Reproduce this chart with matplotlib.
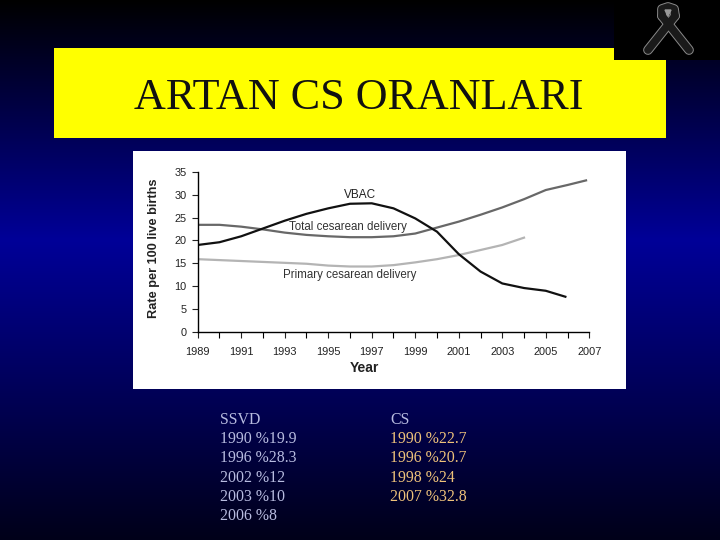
import numpy as np
import matplotlib
matplotlib.use("Agg")
import matplotlib.pyplot as plt
from matplotlib.patches import Rectangle

title = "ARTAN CS ORANLARI"

years_vbac = [1989, 1990, 1991, 1992, 1993, 1994, 1995, 1996, 1997, 1998, 1999, 2000, 2001, 2002, 2003, 2004, 2005, 2005.9]
vbac = [19, 19.6, 20.9, 22.6, 24.3, 25.8, 27, 28, 28.1, 27, 24.8, 21.9, 17, 13.2, 10.6, 9.6, 9.0, 7.7]

years_total = [1989, 1990, 1991, 1992, 1993, 1994, 1995, 1996, 1997, 1998, 1999, 2000, 2001, 2002, 2003, 2004, 2005, 2006, 2006.85]
total = [23.4, 23.4, 23, 22.4, 21.7, 21.2, 20.9, 20.7, 20.7, 20.9, 21.5, 22.8, 24.1, 25.6, 27.2, 29, 31, 32.1, 33.1]

years_primary = [1989, 1990, 1991, 1992, 1993, 1994, 1995, 1996, 1997, 1998, 1999, 2000, 2001, 2002, 2003, 2004]
primary = [15.9, 15.7, 15.5, 15.3, 15.1, 14.9, 14.5, 14.3, 14.3, 14.6, 15.2, 15.9, 16.8, 17.9, 19, 20.6]

y_ticks = [0, 5, 10, 15, 20, 25, 30, 35]
x_minor = list(range(1989, 2008))
x_labels = list(range(1989, 2008, 2))

ssvd_lines = ["SSVD", "1990 %19.9", "1996 %28.3", "2002 %12", "2003 %10", "2006 %8"]
cs_lines = ["CS", "1990 %22.7", "1996 %20.7", "1998 %24", "2007 %32.8"]

W, H = 720, 540
fig = plt.figure(figsize=(W / 100, H / 100), dpi=100)

# full figure axes in pixel coordinates for the slide itself
bg = fig.add_axes([0, 0, 1, 1])
bg.set_xlim(0, W)
bg.set_ylim(H, 0)
bg.axis("off")

rows = np.array([0, 240, 540]) / 540
blues = np.array([0, 152, 25])
grad = np.interp(np.linspace(0, 1, 540), rows, blues) / 255
img = np.zeros((540, 1, 3))
img[:, 0, 2] = grad
bg.imshow(img, extent=[0, W, H, 0], aspect="auto", zorder=0)

bg.add_patch(Rectangle((54, 48), 612, 90, fc="#ffff00", ec="none", zorder=1))
bg.add_patch(Rectangle((614, 0), 106, 60, fc="black", ec="none", zorder=2))
bg.add_patch(Rectangle((133, 151), 493, 238, fc="white", ec="none", zorder=1))

# ribbon
leg1_x, leg1_y = [648, 675], [50, 16]
leg2_x, leg2_y = [689, 662], [50, 16]
loop_x, loop_y = [662, 662, 668, 674, 675], [16, 9, 7, 9, 16]
for xs, ys in [(leg1_x, leg1_y), (leg2_x, leg2_y), (loop_x, loop_y)]:
    bg.plot(xs, ys, color="#8a8a8a", lw=7, solid_capstyle="round", zorder=3)
for xs, ys in [(leg1_x, leg1_y), (leg2_x, leg2_y), (loop_x, loop_y)]:
    bg.plot(xs, ys, color="#1a1a1a", lw=5.6, solid_capstyle="round", zorder=4)
bg.fill([665, 671, 668], [10, 10, 16], color="#999999", zorder=5)

bg.text(359, 109, title, family="Liberation Serif", fontsize=31.8, color="#111111",
        ha="center", va="baseline", zorder=5)

for i, s in enumerate(ssvd_lines):
    bg.text(220, 420 + i * 19.2, s, family="Liberation Serif", fontsize=11.4,
            color="#b8bce0", ha="left", va="center", zorder=5)
for i, s in enumerate(cs_lines):
    bg.text(390, 420 + i * 19.2, s, family="Liberation Serif", fontsize=11.4,
            color="#eec27a" if i else "#b8bce0", ha="left", va="center", zorder=5)

# the chart inside the white panel
left, right, top, bottom = 197.7, 589.3, 171.7, 332
ax = fig.add_axes([left / W, 1 - bottom / H, (right - left) / W, (bottom - top) / H])
ax.patch.set_alpha(0)
ax.set_xlim(1989, 2007)
ax.set_ylim(0, 35)
ax.spines["top"].set_visible(False)
ax.spines["right"].set_visible(False)
ax.spines["left"].set_linewidth(1.0)
ax.spines["bottom"].set_linewidth(1.0)

ax.plot(years_primary, primary, color="#b4b4b4", lw=1.6)
ax.plot(years_total, total, color="#686868", lw=1.6)
ax.plot(years_vbac, vbac, color="#111111", lw=1.6)

ax.set_yticks(y_ticks)
ax.set_xticks(x_minor, minor=True)
ax.set_xticks(x_labels)
ax.tick_params(axis="both", labelsize=7.9, colors="#222222", length=4, width=0.8, pad=4)
ax.tick_params(axis="x", which="minor", length=4, width=0.8, direction="out")
ax.tick_params(axis="x", which="major", direction="out", pad=7)
for lab in ax.get_xticklabels() + ax.get_yticklabels():
    lab.set_family("Liberation Sans")

ax.set_xlabel("Year", family="Liberation Sans", fontsize=10, fontweight="bold", labelpad=3, color="#222222", x=0.425)
ax.set_ylabel("Rate per 100 live births", family="Liberation Sans", fontsize=9.2, fontweight="bold", labelpad=10, color="#222222", y=0.525)

ax.text(1996.45, 28.7, "VBAC", family="Liberation Sans", fontsize=8.5, color="#222222", ha="center", va="bottom")
ax.text(1995.9, 22.9, "Total cesarean delivery", family="Liberation Sans", fontsize=8.3, color="#333333", ha="center", va="center")
ax.text(1996.0, 12.4, "Primary cesarean delivery", family="Liberation Sans", fontsize=8.3, color="#333333", ha="center", va="center")

fig.savefig("out.png", dpi=100)
